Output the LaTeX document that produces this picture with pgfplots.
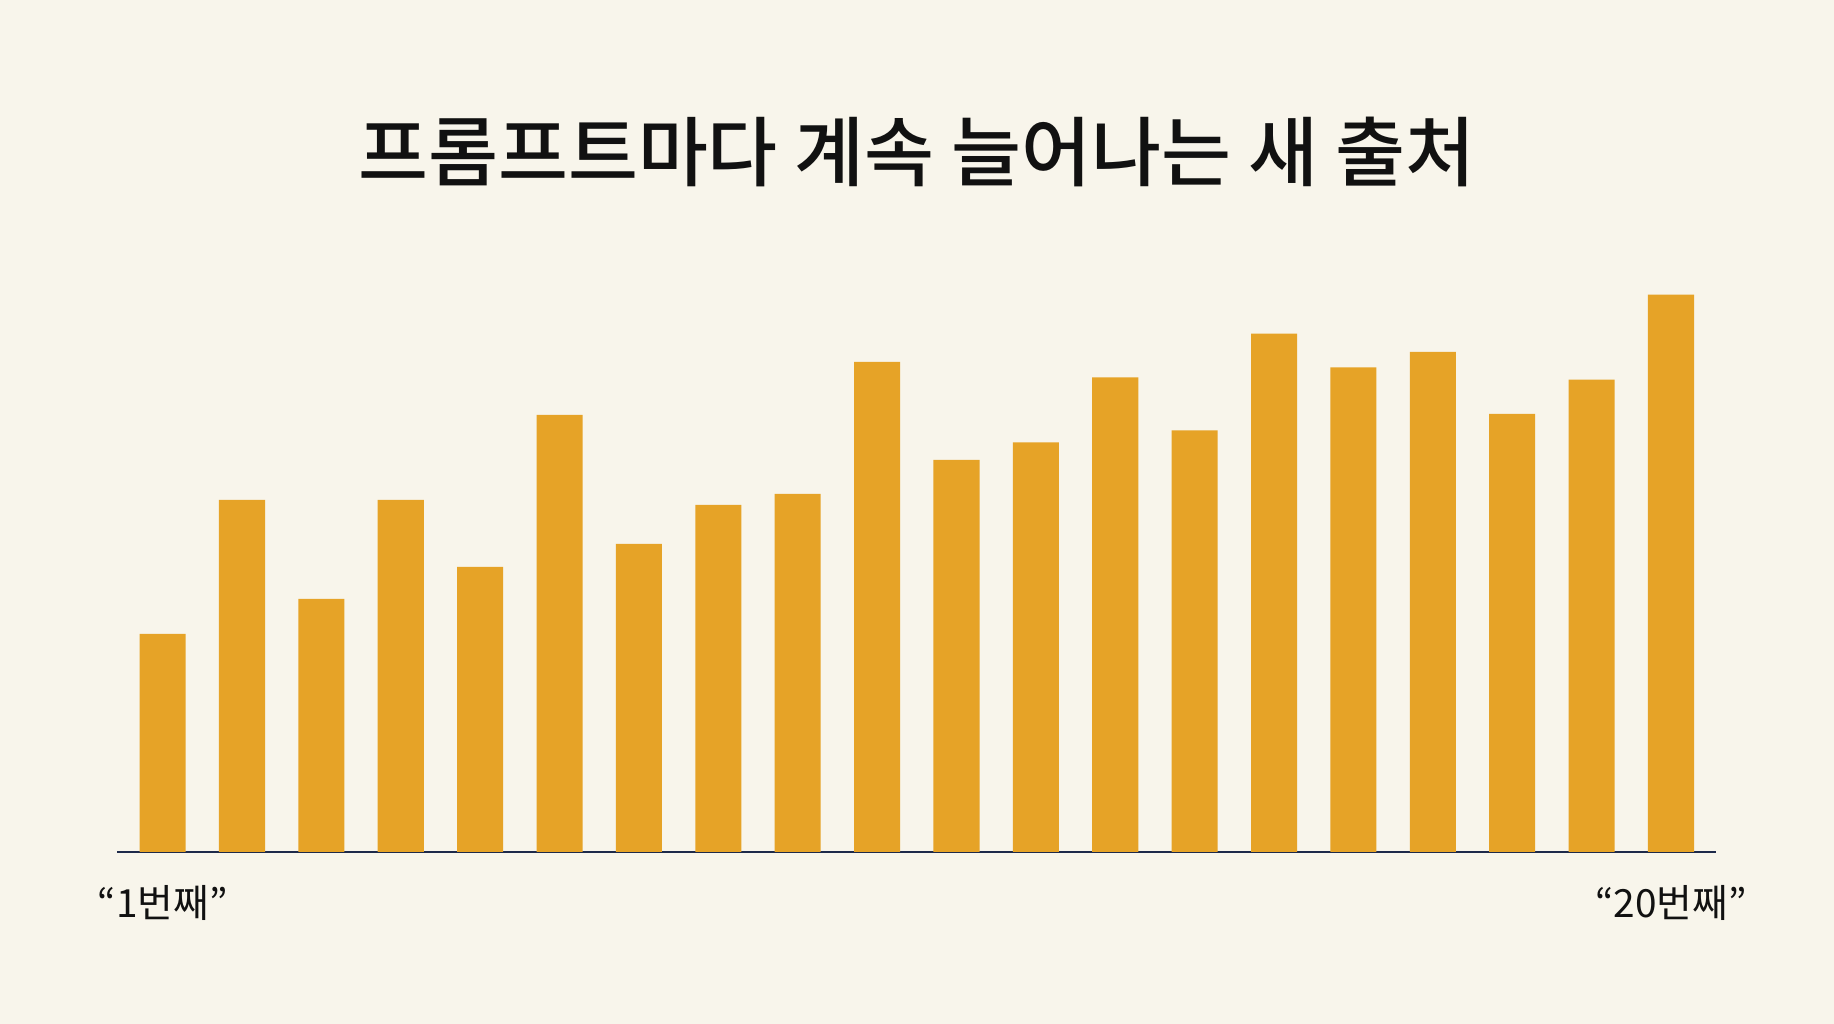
\documentclass[border=0pt]{standalone}
\usepackage{fontspec}
\setmainfont{Noto Sans CJK KR}
\newfontfamily\titlefont{Noto Sans CJK KR Medium}
\usepackage{pgfplots}
\pgfplotsset{compat=1.18}
\definecolor{bg}{HTML}{F8F5EB}
\definecolor{bar}{HTML}{E6A327}
\definecolor{navy}{HTML}{1E2A4A}
\definecolor{ink}{HTML}{111111}
\begin{document}
\begin{tikzpicture}[x=1pt,y=1pt]
\fill[bg] (-29.25,-43) rectangle (429.25,213);
\useasboundingbox (-29.25,-43) rectangle (429.25,213);
\begin{axis}[
  at={(0,0)}, anchor=south west,
  scale only axis,
  width=399.75pt, height=150.5pt,
  xmin=0.4256, xmax=20.567,
  ymin=0, ymax=602,
  axis x line=bottom, axis y line=none,
  x axis line style={-, draw=navy, line width=0.7pt},
  xtick={1,20},
  xticklabels={“1번째”, “20번째”},
  major tick length=0pt,
  xticklabel style={anchor=center, yshift=-12.75pt, font=\fontsize{9.7}{11}\selectfont, text=ink},
  ytick=\empty,
  clip=false,
]
\addplot[ybar, bar width=0.58, fill=bar, draw=none] coordinates {
(1,218) (2,352) (3,253) (4,352) (5,285) (6,437) (7,308) (8,347) (9,358) (10,490)
(11,392) (12,409.5) (13,474.5) (14,421.6) (15,518.3) (16,484.5) (17,500) (18,438) (19,472.3) (20,557.3)
};
\end{axis}
\node[font=\titlefont\fontsize{19}{22}\selectfont, text=ink] at (200,175) {프롬프트마다 계속 늘어나는 새 출처};
\end{tikzpicture}
\end{document}
